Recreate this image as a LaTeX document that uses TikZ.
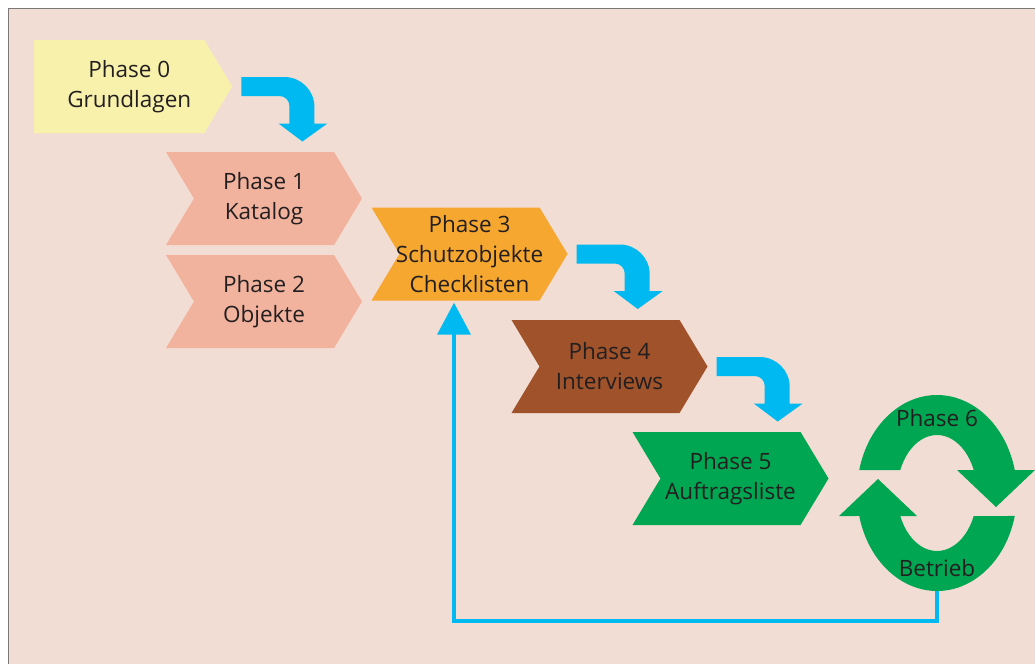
\documentclass[tikz,border=0pt]{standalone}
\usepackage{fontspec}
\setmainfont{Open Sans}
\usetikzlibrary{shapes.symbols, arrows.meta, calc}

\definecolor{bgrose}{RGB}{242,221,212}
\definecolor{framegray}{RGB}{125,120,120}
\definecolor{pyellow}{RGB}{248,241,172}
\definecolor{psalmon}{RGB}{242,179,158}
\definecolor{porange}{RGB}{245,167,48}
\definecolor{pbrown}{RGB}{160,82,43}
\definecolor{pgreen}{RGB}{0,166,81}
\definecolor{flowcyan}{RGB}{0,185,240}
\definecolor{textdark}{RGB}{35,31,32}

\tikzset{
    phase/.style={signal, signal pointer angle=118,
        signal from=west, signal to=east,
        minimum width=196pt, minimum height=93pt,
        inner ysep=0pt, inner xsep=-8pt,
        align=center, text=textdark,
        font=\fontsize{22.5}{30}\selectfont},
    label6/.style={text=textdark, inner sep=0pt,
        font=\fontsize{22.5}{30}\selectfont},
    flowarrow/.style={fill=flowcyan},
    feedback/.style={draw=flowcyan, line width=4pt,
        -{Triangle[length=32pt, width=33pt]}},
}

% gebogener Pfeil rechts neben der Spitze eines Knotens
\newcommand{\bentarrow}[1]{%
    \fill[flowarrow, shift={(#1.east)}]
        (9,-9.5) -- (52,-9.5) arc[start angle=270, end angle=360, radius=30]
        -- (82,37) -- (95,37) -- (70,55) -- (46,37) -- (57,37)
        -- (57,19.5) arc[start angle=0, end angle=-90, radius=10]
        -- (9,9.5) -- cycle;
}

\begin{document}
\begin{tikzpicture}[x=1pt, y=-1pt]
% ---- Hintergrund und Rahmen ----
\fill[white] (0,0) rectangle (1035,664);
\useasboundingbox (0,0) rectangle (1035,664);
\fill[bgrose] (9,9) rectangle (1035,664);
\draw[framegray, line width=1.5pt] (8.5,664) -- (8.5,8.5) -- (1035,8.5);

% ---- Phasen ----
\node[phase, fill=pyellow, signal from=nowhere, minimum width=198pt,
      anchor=west] (p0) at (34,86.5)
      {\hspace*{20pt}Phase 0\\\hspace*{20pt}Grundlagen};
\node[phase, fill=psalmon] (p1) at (264,198.5) {Phase 1\\Katalog};
\node[phase, fill=psalmon] (p2) at (264,301.5) {Phase 2\\Objekte};
\node[phase, fill=porange] (p3) at (469.5,254) {Phase 3\\Schutzobjekte\\Checklisten};
\node[phase, fill=pbrown]  (p4) at (609.5,366.5) {Phase 4\\Interviews};
\node[phase, fill=pgreen]  (p5) at (730.5,478.5) {Phase 5\\Auftragsliste};

% ---- Pfeile zwischen den Phasen ----
\bentarrow{p0}
\bentarrow{p3}
\bentarrow{p4}

% ---- Phase 6: Kreislauf ----
\coordinate (ring) at (937,493);
\foreach \rot in {0,180} {
    \fill[pgreen, shift={(ring)}, rotate=\rot]
        (193.57:80 and 98) arc[start angle=193.57, end angle=346.43,
                                x radius=80, y radius=98]
        -- (98,-23) -- (59,14) -- (20,-23)
        -- (336.64:40 and 58) arc[start angle=336.64, end angle=203.36,
                                   x radius=40, y radius=58]
        -- cycle;
}
\node[label6] (p6) at ($(ring)+(0,-75)$) {Phase 6};
\node[label6] (betrieb) at ($(ring)+(0,75)$) {Betrieb};

% ---- Rueckkopplung zu Phase 3 ----
\coordinate (ringbottom) at ($(ring)+(0,98)$);
\draw[feedback] (ringbottom) -- ++(0,30) -| ($(p3.south)+(-15.5,2)$);
\end{tikzpicture}
\end{document}
